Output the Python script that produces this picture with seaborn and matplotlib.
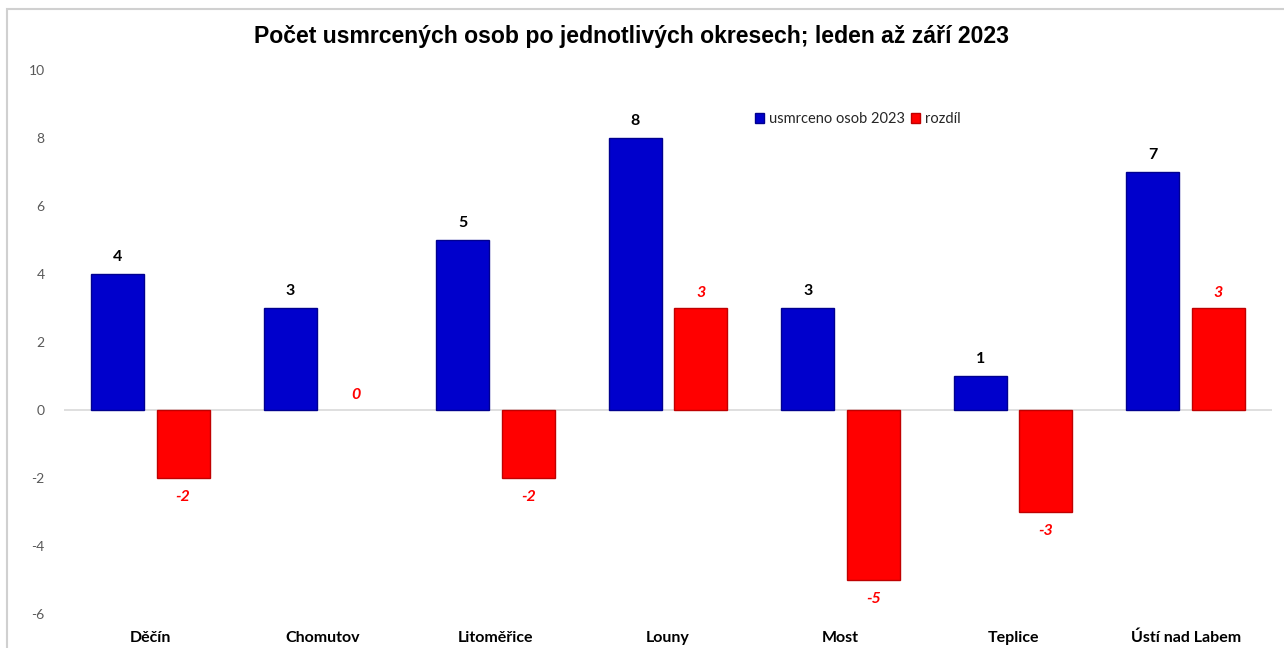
import pandas as pd
import seaborn as sns
import matplotlib.pyplot as plt
from matplotlib.patches import Rectangle

# data
okresy = ["Děčín", "Chomutov", "Litoměřice", "Louny", "Most", "Teplice", "Ústí nad Labem"]
usmrceno_2023 = [4, 3, 5, 8, 3, 1, 7]
rozdil = [-2, 0, -2, 3, -5, -3, 3]
nazvy_rad = ["usmrceno osob 2023", "rozdíl"]
y_ticks = [-6, -4, -2, 0, 2, 4, 6, 8, 10]

BLUE = "#0000cc"
RED = "#ff0000"

df = pd.DataFrame({
    "okres": okresy * 2,
    "hodnota": usmrceno_2023 + rozdil,
    "rada": [nazvy_rad[0]] * len(okresy) + [nazvy_rad[1]] * len(okresy),
})

sns.set_theme(style="white")
plt.rcParams["font.family"] = ["Lato", "DejaVu Sans"]

fig = plt.figure(figsize=(12.84, 6.48), dpi=100)
ax = fig.add_axes([64 / 1284, 1 - 614 / 648, 1208 / 1284, 544 / 648])

ax.axhline(0, color="#d9d9d9", lw=1.2, zorder=0)
sns.barplot(data=df, x="okres", y="hodnota", hue="rada", palette=[BLUE, RED],
            saturation=1, width=0.76, gap=0.19, ax=ax, legend=False, zorder=2)

# edges a bit darker than fill
for bar in ax.containers[0]:
    bar.set_edgecolor("#000090")
    bar.set_linewidth(1)
for bar, v in zip(ax.containers[1], rozdil):
    bar.set_edgecolor("#c00000")
    bar.set_linewidth(1 if v != 0 else 0)

# value labels
for bar, v in zip(ax.containers[0], usmrceno_2023):
    ax.annotate(str(v), (bar.get_x() + bar.get_width() / 2, v),
                xytext=(0, 12), textcoords="offset points", ha="center", va="center",
                fontsize=11.5, fontweight="bold", color="black")
for bar, v in zip(ax.containers[1], rozdil):
    off = -13.5 if v < 0 else 11
    ax.annotate(str(v), (bar.get_x() + bar.get_width() / 2, v),
                xytext=(0, off), textcoords="offset points", ha="center", va="center",
                fontsize=11.5, fontweight="bold", fontstyle="italic", color=RED)

ax.set_ylim(-6, 10)
ax.set_yticks(y_ticks)
ax.set_yticklabels([str(t) for t in y_ticks], color="#595959", fontsize=10)
ax.set_xlabel("")
ax.set_ylabel("")
ax.tick_params(axis="x", length=0, pad=12, labelsize=11.5)
ax.tick_params(axis="y", length=0, pad=14)
for lab in ax.get_xticklabels():
    lab.set_fontweight("bold")
    lab.set_color("black")
sns.despine(ax=ax, left=True, bottom=True)
ax.set_facecolor("none")

# legend
handles = [Rectangle((0, 0), 1, 1, facecolor=BLUE, edgecolor="#000090"),
           Rectangle((0, 0), 1, 1, facecolor=RED, edgecolor="#c00000")]
fig.legend(handles, nazvy_rad, loc="center left",
           bbox_to_anchor=(755 / 1284, 1 - 119 / 648), ncol=2, frameon=False,
           handlelength=0.65, handleheight=0.65, handletextpad=0.3,
           columnspacing=0.4, borderpad=0, borderaxespad=0,
           prop={"size": 10.5})

fig.text(0.492, 1 - 37 / 648, "Počet usmrcených osob po jednotlivých okresech; leden až září 2023",
         ha="center", va="center", fontsize=16.6, fontweight="bold", color="black",
         family=["Liberation Sans Narrow", "Liberation Sans", "DejaVu Sans"])

# outer chart frame
fig.patches.append(Rectangle((7 / 1284, -0.5), 2, 1.5 - 9 / 648, transform=fig.transFigure,
                             fill=False, edgecolor="#d0d0d0", lw=1.5, figure=fig))

fig.savefig("out.png", dpi=100)
